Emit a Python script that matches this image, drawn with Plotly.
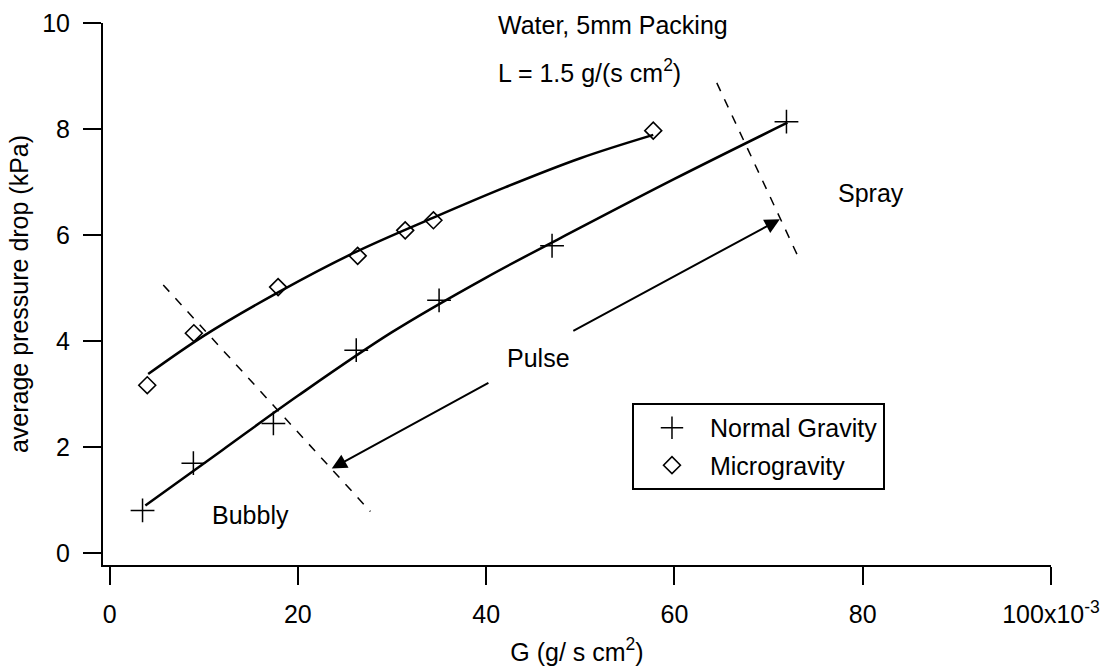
import plotly.graph_objects as go

# ---- data ----
ng_x = [3.5, 8.9, 17.4, 26.2, 35.0, 47.0, 71.9]
ng_y = [0.81, 1.70, 2.45, 3.83, 4.77, 5.80, 8.14]

mg_x = [4.0, 8.95, 17.9, 26.35, 31.4, 34.4, 57.75]
mg_y = [3.17, 4.15, 5.02, 5.61, 6.09, 6.28, 7.97]

ng_fit_x = [3.8, 12.0, 20.0, 30.0, 40.0, 50.0, 60.0, 72.0]
ng_fit_y = [0.90, 1.95, 2.97, 4.17, 5.20, 6.14, 7.06, 8.12]

mg_fit_x = [4.1, 10.0, 18.0, 26.0, 34.4, 42.0, 50.0, 57.75]
mg_fit_y = [3.38, 4.10, 4.93, 5.67, 6.33, 6.90, 7.45, 7.89]

bubbly_bound_x = [5.7, 27.7]
bubbly_bound_y = [5.06, 0.79]
spray_bound_x = [64.5, 73.2]
spray_bound_y = [8.87, 5.57]

# arrows: (tail x, tail y, head x, head y)
arrow_up = [49.1, 4.18, 71.2, 6.30]
arrow_down = [40.4, 3.23, 23.6, 1.60]

x_ticks = [0, 20, 40, 60, 80, 100]
x_ticklabels = ["0", "20", "40", "60", "80", "100x10<sup>-3</sup>"]
y_ticks = [0, 2, 4, 6, 8, 10]

FONT = "Liberation Sans, Arial, Helvetica, sans-serif"
FS = 25

fig = go.Figure()

for fx, fy in ((ng_fit_x, ng_fit_y), (mg_fit_x, mg_fit_y)):
    fig.add_trace(go.Scatter(x=fx, y=fy, mode="lines",
                             line=dict(color="black", width=2.5, shape="spline", smoothing=1.0),
                             showlegend=False, hoverinfo="skip"))
for bx, by in ((bubbly_bound_x, bubbly_bound_y), (spray_bound_x, spray_bound_y)):
    fig.add_trace(go.Scatter(x=bx, y=by, mode="lines",
                             line=dict(color="black", width=1.5, dash="9px,9px"),
                             showlegend=False, hoverinfo="skip"))

fig.add_trace(go.Scatter(x=ng_x, y=ng_y, mode="markers", name="Normal Gravity",
                         legendgroup="a",
                         marker=dict(symbol="cross-thin", size=17, color="black",
                                     line=dict(color="black", width=1.5))))
fig.add_trace(go.Scatter(x=mg_x, y=mg_y, mode="markers", name="Microgravity",
                         legendgroup="b",
                         marker=dict(symbol="diamond-open", size=13, color="black",
                                     line=dict(color="black", width=1.6))))

for a in (arrow_up, arrow_down):
    fig.add_annotation(x=a[2], y=a[3], ax=a[0], ay=a[1], xref="x", yref="y",
                       axref="x", ayref="y", text="", showarrow=True,
                       arrowhead=2, arrowsize=1.5, arrowwidth=2, arrowcolor="black")

texts = [
    (41.0, 9.96, "Water, 5mm Packing"),
    (41.0, 9.09, "L = 1.5 g/(s cm<sup>2</sup>)"),
    (77.2, 6.79, "Spray"),
    (42.0, 3.68, "Pulse"),
    (10.7, 0.72, "Bubbly"),
]
for tx, ty, t in texts:
    fig.add_annotation(x=tx, y=ty, xref="x", yref="y", text=t, showarrow=False,
                       xanchor="left", yanchor="middle",
                       font=dict(family=FONT, size=FS, color="black"))

axis_common = dict(showline=True, linecolor="black", linewidth=2, ticks="outside",
                   ticklen=18, tickwidth=2, tickcolor="black", showgrid=False,
                   zeroline=False, mirror=False, automargin=False,
                   tickfont=dict(family=FONT, size=FS, color="black"))

fig.update_xaxes(range=[-0.7, 100], tickvals=x_ticks, ticktext=x_ticklabels,
                 ticklabelstandoff=8,
                 title=dict(text="G (g/ s cm<sup>2</sup>)", standoff=16,
                            font=dict(family=FONT, size=FS, color="black")),
                 **axis_common)
fig.update_yaxes(range=[-0.22, 10], tickvals=y_ticks,
                 ticklabelstandoff=8,
                 title=dict(text="average pressure drop (kPa)", standoff=6,
                            font=dict(family=FONT, size=FS, color="black")),
                 **axis_common)

fig.update_layout(
    width=1102, height=669,
    margin=dict(l=103, r=51, t=23, b=104),
    paper_bgcolor="white", plot_bgcolor="white",
    font=dict(family=FONT, size=FS, color="black"),
    legend=dict(x=0.558, y=0.299, xanchor="left", yanchor="top",
                bordercolor="black", borderwidth=2, bgcolor="white",
                font=dict(family=FONT, size=FS, color="black"),
                itemwidth=66,
                tracegroupgap=2, traceorder="grouped"),
)

fig.write_html("out.html", post_script="document.body.style.margin='0';",
               config={"displayModeBar": False})
